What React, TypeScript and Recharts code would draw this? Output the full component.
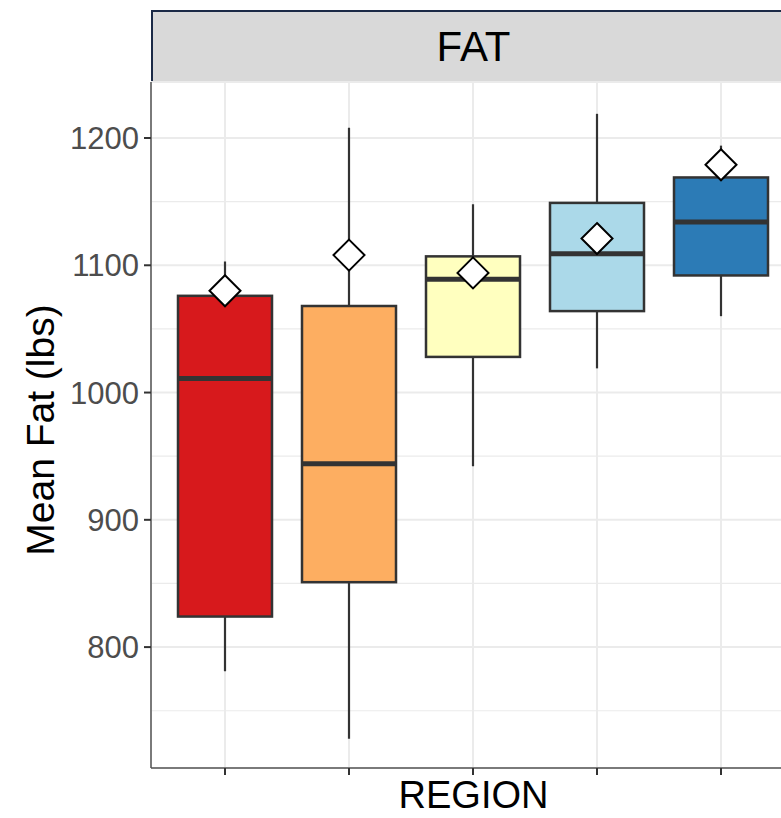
import React from "react";
import {
  ComposedChart,
  Bar,
  Scatter,
  XAxis,
  YAxis,
  CartesianGrid,
} from "recharts";

// box stats per region
const regions = ["1", "2", "3", "4", "5"];
const mins = [781, 728, 942, 1019, 1060];
const q1s = [824, 851, 1028, 1064, 1092];
const medians = [1011, 944, 1089, 1109, 1134];
const q3s = [1076, 1068, 1107, 1149, 1169];
const maxs = [1103, 1208, 1148, 1219, 1194];
const means = [1080, 1108, 1094, 1121, 1179];
const fills = ["#d7191c", "#fdae61", "#ffffbf", "#abd9e9", "#2c7bb6"];

const yTicks = [800, 900, 1000, 1100, 1200];
const yMinor = [750, 850, 950, 1050, 1150];

const data = regions.map((r, i) => ({
  region: r,
  range: [mins[i], maxs[i]],
  min: mins[i],
  q1: q1s[i],
  median: medians[i],
  q3: q3s[i],
  max: maxs[i],
  mean: means[i],
  fill: fills[i],
}));

const BoxShape = (props: any) => {
  const { x, y, width, height, payload } = props;
  const lo = payload.min;
  const hi = payload.max;
  const py = (v: number) => y + ((hi - v) / (hi - lo)) * height;
  const cx = x + width / 2;
  return (
    <g>
      <line x1={cx} x2={cx} y1={py(hi)} y2={py(lo)} stroke="#333" strokeWidth={2.2} />
      <rect
        x={x}
        y={py(payload.q3)}
        width={width}
        height={py(payload.q1) - py(payload.q3)}
        fill={payload.fill}
        stroke="#333"
        strokeWidth={2.5}
      />
      <line
        x1={x}
        x2={x + width}
        y1={py(payload.median)}
        y2={py(payload.median)}
        stroke="#333"
        strokeWidth={5}
      />
    </g>
  );
};

const Diamond = (props: any) => {
  const { cx, cy } = props;
  const r = 15.5;
  return (
    <path
      d={`M${cx},${cy - r}L${cx + r},${cy}L${cx},${cy + r}L${cx - r},${cy}Z`}
      fill="#fff"
      stroke="#000"
      strokeWidth={2}
    />
  );
};

const YTitle = (props: any) => {
  const { viewBox } = props;
  const cx = 40;
  const cy = viewBox.y + viewBox.height / 2 + 5;
  return (
    <text
      x={cx}
      y={cy}
      transform={`rotate(-90 ${cx} ${cy})`}
      textAnchor="middle"
      dominantBaseline="central"
      fontSize={39}
      fontFamily="Liberation Sans, Arial, sans-serif"
      fill="#000"
    >
      Mean Fat (lbs)
    </text>
  );
};

const XTitle = (props: any) => {
  const { viewBox } = props;
  return (
    <text
      x={viewBox.x + viewBox.width / 2}
      y={808}
      textAnchor="middle"
      fontSize={38}
      fontFamily="Liberation Sans, Arial, sans-serif"
      fill="#000"
    >
      REGION
    </text>
  );
};

export default function App() {
  return (
    <div
      style={{
        position: "absolute",
        left: 0,
        top: 0,
        width: 781,
        height: 818,
        overflow: "hidden",
        background: "#fff",
      }}
    >
      <div
        style={{
          position: "absolute",
          left: 151,
          top: 10,
          width: 645,
          height: 73,
          boxSizing: "border-box",
          background: "#d9d9d9",
          border: "2px solid #1b2a47",
          display: "flex",
          alignItems: "center",
          justifyContent: "center",
          fontFamily: "Liberation Sans, Arial, sans-serif",
          fontSize: 42,
          color: "#000",
        }}
      >
        FAT
      </div>
      <ComposedChart
        width={800}
        height={818}
        data={data}
        margin={{ top: 82, right: 4, bottom: 0, left: 0 }}
      >
        <CartesianGrid horizontalValues={yMinor} vertical={false} stroke="#ebebeb" strokeWidth={1.2} />
        <CartesianGrid stroke="#ebebeb" strokeWidth={2} />
        <XAxis
          dataKey="region"
          height={50}
          padding={{ left: 12, right: 13 }}
          tick={() => <g />}
          tickSize={7}
          tickLine={{ stroke: "#333", strokeWidth: 2 }}
          axisLine={{ stroke: "#555", strokeWidth: 1.5 }}
          label={<XTitle />}
        />
        <YAxis
          width={151}
          domain={[705, 1244]}
          ticks={yTicks}
          tickSize={7}
          tickMargin={5}
          tick={{ fontSize: 31, fill: "#4d4d4d", fontFamily: "Liberation Sans, Arial, sans-serif" }}
          tickLine={{ stroke: "#333", strokeWidth: 2 }}
          axisLine={{ stroke: "#555", strokeWidth: 1.5 }}
          label={<YTitle />}
        />
        <Bar dataKey="range" barSize={94} shape={<BoxShape />} isAnimationActive={false} />
        <Scatter dataKey="mean" shape={<Diamond />} isAnimationActive={false} />
      </ComposedChart>
    </div>
  );
}
